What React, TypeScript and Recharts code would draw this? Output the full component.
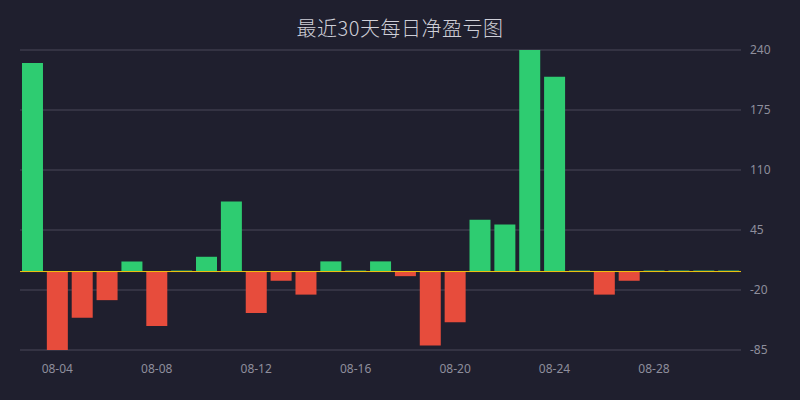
import { Bar, BarChart, CartesianGrid, Cell, ReferenceLine, XAxis, YAxis } from "recharts";

const days = [
  "08-03", "08-04", "08-05", "08-06", "08-07", "08-08", "08-09", "08-10", "08-11", "08-12",
  "08-13", "08-14", "08-15", "08-16", "08-17", "08-18", "08-19", "08-20", "08-21", "08-22",
  "08-23", "08-24", "08-25", "08-26", "08-27", "08-28", "08-29", "08-30", "08-31",
];
const pnl = [
  226, -85, -50, -31, 11, -59, 0, 16, 76, -45,
  -10, -25, 11, 0, 11, -5, -80, -55, 56, 51,
  240, 211, 0, -25, -10, 0, 0, 0, 0,
];
const xTicks = ["08-04", "08-08", "08-12", "08-16", "08-20", "08-24", "08-28"];
const yTicks = [-85, -20, 45, 110, 175, 240];

const BG = "#1f1f2e";
const UP = "#2ecc71";
const DOWN = "#e74c3c";

export default function App() {
  const data = days.map((d, i) => ({ day: d, value: pnl[i] }));
  const tickStyle = { fill: "#8e8e9c", fontSize: 12, fontFamily: "'Noto Sans', sans-serif" };

  return (
    <div style={{ position: "absolute", left: 0, top: 0, width: 800, height: 400, background: BG }}>
      <div
        style={{
          position: "absolute",
          top: 13,
          width: 800,
          textAlign: "center",
          color: "#cfcfd8",
          fontSize: 20,
          fontWeight: 300,
          fontFamily: "'Noto Sans CJK SC', sans-serif",
          letterSpacing: 0.5,
        }}
      >
        最近30天每日净盈亏图
      </div>
      <BarChart
        width={800}
        height={400}
        data={data}
        margin={{ top: 50, right: 0, bottom: 20, left: 20 }}
        barCategoryGap="8%"
      >
        <CartesianGrid horizontal vertical={false} stroke="#4a4958" strokeWidth={1} />
        <XAxis
          dataKey="day"
          ticks={xTicks}
          interval={0}
          height={30}
          axisLine={false}
          tickLine={false}
          tick={tickStyle}
          tickMargin={8}
        />
        <YAxis
          orientation="right"
          width={59}
          domain={[-85, 240]}
          ticks={yTicks}
          allowDataOverflow
          axisLine={false}
          tickLine={false}
          tick={{ ...tickStyle, textAnchor: "start" }}
          tickMargin={3}
        />
        <ReferenceLine y={0} stroke="#f1c40f" strokeWidth={1} />
        <Bar dataKey="value" isAnimationActive={false} minPointSize={1}>
          {data.map((d) => (
            <Cell key={d.day} fill={d.value < 0 ? DOWN : UP} />
          ))}
        </Bar>
      </BarChart>
    </div>
  );
}
